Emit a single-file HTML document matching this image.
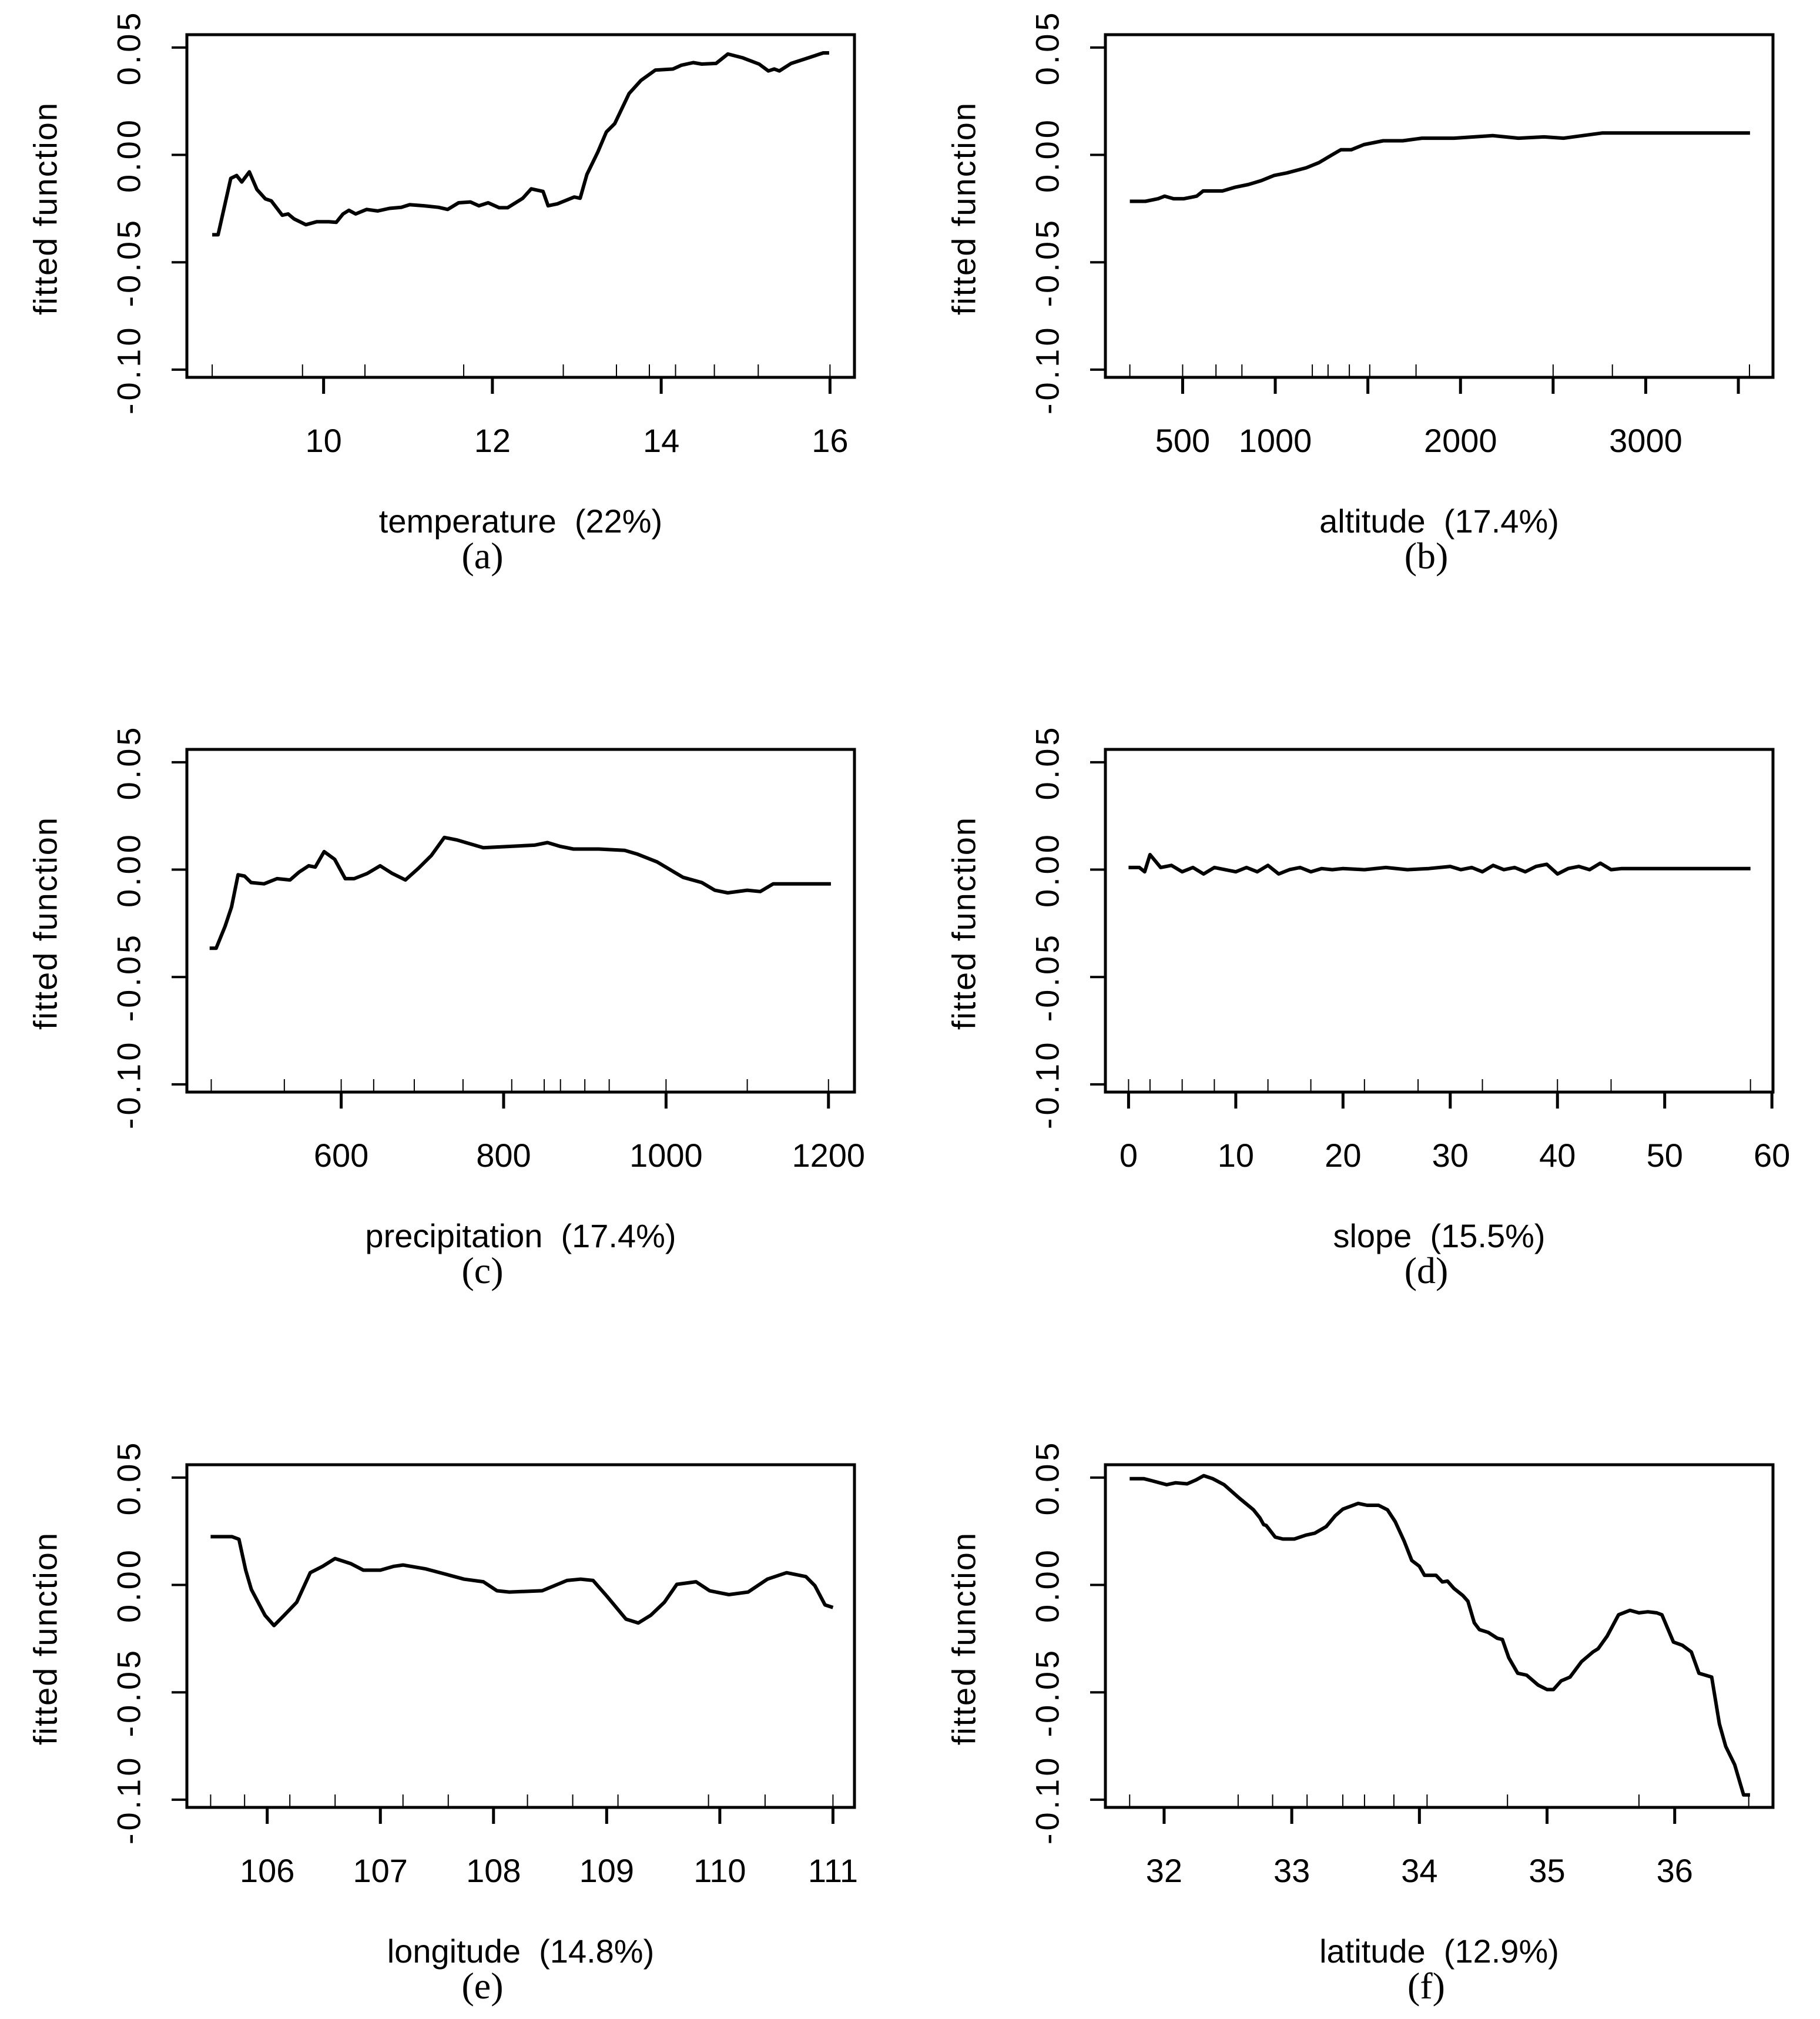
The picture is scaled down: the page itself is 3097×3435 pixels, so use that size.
<!DOCTYPE html>
<html><head><meta charset="utf-8"><style>
html,body{margin:0;padding:0;background:#fff;}
svg{display:block;}
text{font-family:"Liberation Sans",sans-serif;fill:#000;}
.cap{font-family:"Liberation Serif",serif;}
</style></head><body>
<svg id="fig" width="3097" height="3435" viewBox="0 0 3097 3435" xmlns="http://www.w3.org/2000/svg"></svg>
<script>
// ---- data ----
const tempX=[8.68,8.75,8.90,8.97,9.03,9.12,9.21,9.31,9.38,9.51,9.58,9.65,9.79,9.92,10.06,10.15,10.23,10.30,10.38,10.51,10.64,10.78,10.92,11.02,11.19,11.36,11.47,11.60,11.74,11.84,11.95,12.08,12.18,12.36,12.46,12.60,12.66,12.77,12.97,13.04,13.12,13.25,13.35,13.45,13.62,13.76,13.93,14.14,14.24,14.38,14.48,14.65,14.79,14.96,15.16,15.27,15.34,15.40,15.54,15.75,15.92,15.99];
const tempY=[-0.0372,-0.0372,-0.0109,-0.0096,-0.0126,-0.0079,-0.0161,-0.0205,-0.0214,-0.0281,-0.0275,-0.0298,-0.0325,-0.0311,-0.0311,-0.0314,-0.0275,-0.0258,-0.0275,-0.0254,-0.0261,-0.0249,-0.0244,-0.0232,-0.0237,-0.0244,-0.0254,-0.0223,-0.0219,-0.0237,-0.0223,-0.0246,-0.0246,-0.0202,-0.0158,-0.0170,-0.0237,-0.0228,-0.0196,-0.0202,-0.0091,0.0014,0.0107,0.0146,0.0286,0.0347,0.0395,0.0400,0.0418,0.0430,0.0423,0.0426,0.0470,0.0453,0.0423,0.0391,0.0400,0.0391,0.0426,0.0453,0.0475,0.0475];
const tempRug=[8.68,9.75,10.49,11.66,12.84,13.47,13.86,14.17,14.63,15.15,16.0];

const altX=[215,299,368,403,451,507,576,611,715,785,854,924,993,1063,1167,1236,1306,1354,1410,1479,1583,1688,1792,1965,2174,2313,2451,2556,2660,2764,3563];
const altY=[-0.0216,-0.0216,-0.0204,-0.0192,-0.0204,-0.0204,-0.0192,-0.0168,-0.0168,-0.015,-0.0138,-0.012,-0.0096,-0.0084,-0.006,-0.0036,0,0.0024,0.0024,0.0048,0.0066,0.0066,0.0078,0.0078,0.009,0.0078,0.0084,0.0078,0.009,0.0102,0.0102];
const altRug=[215,500,680,820,1200,1285,1400,1510,1760,2500,2820,3560];

const precX=[438,446,457,465,473,481,489,505,521,537,548,560,568,579,592,605,616,632,648,663,679,695,711,727,743,759,775,806,838,854,870,886,917,949,965,989,1005,1021,1044,1060,1076,1100,1116,1132,1203];
const precY=[-0.0366,-0.0366,-0.0264,-0.0174,-0.0024,-0.003,-0.006,-0.0066,-0.0042,-0.0048,-0.0012,0.0018,0.0012,0.0084,0.0048,-0.0042,-0.0042,-0.0018,0.0018,-0.0018,-0.0048,0.0006,0.0066,0.015,0.0138,0.012,0.0102,0.0108,0.0114,0.0126,0.0108,0.0096,0.0096,0.009,0.0072,0.0036,0,-0.0036,-0.006,-0.0096,-0.0108,-0.0096,-0.0102,-0.0066,-0.0066];
const precRug=[440,530,600,640,690,750,810,850,870,900,930,1000,1100,1200];

const slopeX=[0,1,1.5,2,3,4,5,6,7,8,9,10,11,12,13,14,15,16,17,18,19,20,22,24,26,28,30,31,32,33,34,35,36,37,38,39,40,41,42,43,44,45,46,58];
const slopeY=[0.001,0.001,-0.001,0.007,0.001,0.002,-0.001,0.001,-0.002,0.001,0,-0.001,0.001,-0.001,0.002,-0.002,0,0.001,-0.001,0.0005,0,0.0005,0,0.001,0,0.0005,0.0015,0,0.001,-0.001,0.002,0,0.001,-0.001,0.0015,0.0025,-0.002,0.0005,0.0015,0,0.003,0,0.0005,0.0005];
const slopeRug=[0,2,5,8,13,17,22,27,33,40,45,58];

const lonX=[105.50,105.69,105.75,105.81,105.86,105.98,106.06,106.15,106.26,106.38,106.49,106.60,106.74,106.85,107.00,107.12,107.20,107.40,107.57,107.74,107.91,108.03,108.14,108.43,108.65,108.77,108.88,109.00,109.17,109.28,109.39,109.51,109.62,109.79,109.91,110.08,110.25,110.42,110.59,110.76,110.84,110.93,111.00];
const lonY=[0.0225,0.0225,0.0213,0.0069,-0.0021,-0.0141,-0.0189,-0.0141,-0.0081,0.0057,0.0087,0.0123,0.0099,0.0069,0.0069,0.0087,0.0093,0.0075,0.0051,0.0027,0.0015,-0.0027,-0.0033,-0.0027,0.0021,0.0027,0.0021,-0.0051,-0.0159,-0.0177,-0.0141,-0.0081,0.0003,0.0015,-0.0027,-0.0045,-0.0033,0.0027,0.0057,0.0039,-0.0003,-0.0093,-0.0105];
const lonRug=[105.5,105.8,106.2,106.6,107.2,107.6,108.3,108.7,109.1,109.9,110.4,111];

const latX=[31.73,31.84,31.90,32.02,32.09,32.18,32.25,32.31,32.38,32.47,32.59,32.70,32.75,32.78,32.80,32.87,32.93,33.02,33.11,33.18,33.27,33.34,33.40,33.52,33.59,33.68,33.75,33.81,33.88,33.94,34.00,34.04,34.13,34.18,34.22,34.27,34.34,34.38,34.43,34.47,34.54,34.61,34.65,34.70,34.77,34.84,34.93,35.00,35.05,35.11,35.18,35.27,35.36,35.40,35.47,35.56,35.65,35.72,35.79,35.86,35.90,35.99,36.06,36.13,36.19,36.29,36.35,36.40,36.47,36.54,36.59];
const latY=[0.0495,0.0495,0.0486,0.0467,0.0476,0.0471,0.0489,0.0509,0.0495,0.0467,0.0404,0.0350,0.0313,0.0281,0.0277,0.0223,0.0214,0.0214,0.0232,0.0241,0.0272,0.0322,0.0353,0.0380,0.0371,0.0371,0.0350,0.0295,0.0205,0.0114,0.0087,0.0045,0.0045,0.0014,0.0018,-0.0016,-0.0049,-0.0076,-0.0176,-0.0208,-0.0221,-0.0248,-0.0254,-0.0339,-0.0411,-0.0420,-0.0466,-0.0487,-0.0487,-0.0447,-0.0429,-0.0357,-0.0312,-0.0297,-0.0239,-0.0139,-0.0118,-0.0130,-0.0125,-0.0130,-0.0139,-0.0266,-0.0281,-0.0312,-0.0411,-0.0429,-0.0647,-0.0752,-0.0837,-0.0978,-0.0978];
const latRug=[31.73,32.58,32.85,33.12,33.40,33.57,33.80,34.06,34.69,35.72,36.58];

const yTicks=[0.05,0.00,-0.05,-0.10];
const yTickLabels=["0.05","0.00","-0.05","-0.10"];

const panels=[
 {id:"a",name:"temperature",left:318,top:59,cap:-65,xmin:8.38,xmax:16.29,xs:tempX,ys:tempY,rug:tempRug,ticks:[10,12,14,16],labels:["10","12","14","16"],xlab:"temperature\u00a0\u00a0(22%)"},
 {id:"b",name:"altitude",left:1881,top:59,cap:-22,xmin:83,xmax:3687,xs:altX,ys:altY,rug:altRug,ticks:[500,1000,1500,2000,2500,3000,3500],labels:["500","1000","","2000","","3000",""],xlab:"altitude\u00a0\u00a0(17.4%)"},
 {id:"c",name:"precipitation",left:318,top:1275,cap:-65,xmin:410,xmax:1232,xs:precX,ys:precY,rug:precRug,ticks:[600,800,1000,1200],labels:["600","800","1000","1200"],xlab:"precipitation\u00a0\u00a0(17.4%)"},
 {id:"d",name:"slope",left:1881,top:1275,cap:-22,xmin:-2.16,xmax:60.1,xs:slopeX,ys:slopeY,rug:slopeRug,ticks:[0,10,20,30,40,50,60],labels:["0","10","20","30","40","50","60"],xlab:"slope\u00a0\u00a0(15.5%)"},
 {id:"e",name:"longitude",left:318,top:2492,cap:-65,xmin:105.29,xmax:111.19,xs:lonX,ys:lonY,rug:lonRug,ticks:[106,107,108,109,110,111],labels:["106","107","108","109","110","111"],xlab:"longitude\u00a0\u00a0(14.8%)"},
 {id:"f",name:"latitude",left:1881,top:2492,cap:-22,xmin:31.54,xmax:36.77,xs:latX,ys:latY,rug:latRug,ticks:[32,33,34,35,36],labels:["32","33","34","35","36"],xlab:"latitude\u00a0\u00a0(12.9%)"}
];
const W=1136,H=583,YMIN=-0.1036,YMAX=0.056;
const NS="http://www.w3.org/2000/svg";
const svg=document.getElementById("fig");
function mk(tag,attrs,parent){const e=document.createElementNS(NS,tag);for(const k in attrs)e.setAttribute(k,attrs[k]);parent.appendChild(e);return e;}

panels.forEach(p=>{
 const g=mk("g",{},svg);
 
 
 const sx=v=>p.left+(v-p.xmin)/(p.xmax-p.xmin)*W;
 const sy=v=>p.top+(YMAX-v)/(YMAX-YMIN)*H;
 const bottom=p.top+H;
 const box=mk("rect",{x:p.left,y:p.top,width:W,height:H,fill:"none",stroke:"#000","stroke-width":5},g);
 
 
 yTicks.forEach((v,i)=>{
  const y=sy(v);
  const t=mk("line",{x1:p.left-26,x2:p.left,y1:y,y2:y,stroke:"#000","stroke-width":4},g);
  
  
  const lx=p.left-99;
  const tx=mk("text",{x:lx,y:y,"font-size":56,"letter-spacing":5,"text-anchor":"middle","dominant-baseline":"central",transform:`rotate(-90 ${lx} ${y})`},g);
  tx.textContent=yTickLabels[i];
  
  
 });
 const yt=p.left-241, ym=p.top+H/2+4;
 const ytitle=mk("text",{x:yt,y:ym,"font-size":56,"letter-spacing":2,"text-anchor":"middle","dominant-baseline":"central",transform:`rotate(-90 ${yt} ${ym})`},g);
 ytitle.textContent="fitted function";
 
 
 p.ticks.forEach((v,i)=>{
  const x=sx(v);
  const t=mk("line",{x1:x,x2:x,y1:bottom,y2:bottom+28,stroke:"#000","stroke-width":5},g);
  
  
  if(p.labels[i]){
   const tx=mk("text",{x:x,y:bottom+127,"font-size":56,"text-anchor":"middle"},g);
   tx.textContent=p.labels[i];
   
   
  }
 });
 p.rug.forEach(v=>{
  const x=sx(v);
  const r=mk("line",{x1:x,x2:x,y1:bottom-22,y2:bottom,stroke:"#000","stroke-width":2},g);
  
  
 });
 const pts=p.xs.map((v,i)=>sx(v).toFixed(1)+","+sy(p.ys[i]).toFixed(1)).join(" ");
 const pl=mk("polyline",{points:pts,fill:"none",stroke:"#000","stroke-width":6,"stroke-linejoin":"round"},g);
 
 
 const xl=mk("text",{x:p.left+W/2,y:bottom+264,"font-size":56,"text-anchor":"middle"},g);
 xl.textContent=p.xlab;
 
 
 const cap=mk("text",{x:p.left+W/2+p.cap,y:bottom+325,"font-size":64,"text-anchor":"middle","class":"cap"},g);
 cap.textContent="("+p.id+")";
 
 
});
</script>
</body></html>
